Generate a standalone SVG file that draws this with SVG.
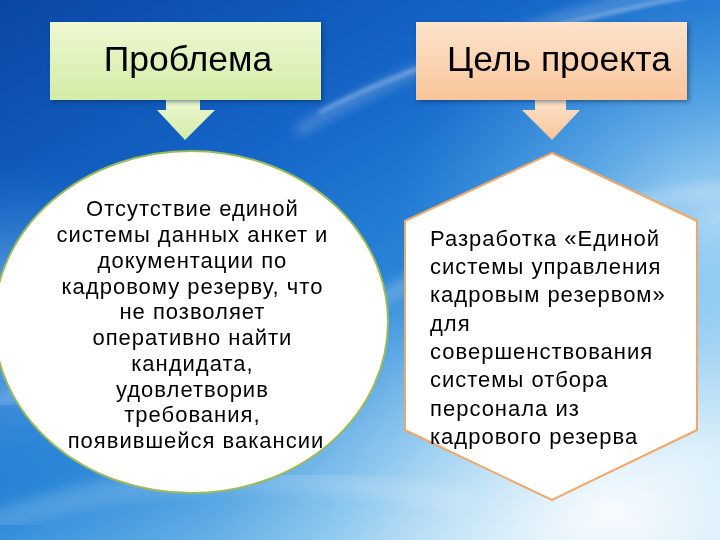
<svg xmlns="http://www.w3.org/2000/svg" width="720" height="540" viewBox="0 0 720 540">
  <defs>
    <linearGradient id="bg" x1="0" y1="0" x2="0.75" y2="1">
      <stop offset="0" stop-color="#0a46a4"/>
      <stop offset="0.35" stop-color="#1566c8"/>
      <stop offset="0.6" stop-color="#2a86d8"/>
      <stop offset="0.85" stop-color="#7cc0ec"/>
      <stop offset="1" stop-color="#cfe9f8"/>
    </linearGradient>
    <radialGradient id="glowBR" cx="0.85" cy="0.95" r="0.55">
      <stop offset="0" stop-color="#ffffff" stop-opacity="0.85"/>
      <stop offset="0.5" stop-color="#d8eefa" stop-opacity="0.45"/>
      <stop offset="1" stop-color="#9fd2f2" stop-opacity="0"/>
    </radialGradient>
    <radialGradient id="glowR" cx="1" cy="0.4" r="0.45">
      <stop offset="0" stop-color="#bfe4fa" stop-opacity="0.8"/>
      <stop offset="1" stop-color="#5fb0ea" stop-opacity="0"/>
    </radialGradient>
    <radialGradient id="glowL" cx="0" cy="0.6" r="0.3">
      <stop offset="0" stop-color="#a8dcf8" stop-opacity="0.7"/>
      <stop offset="1" stop-color="#3a90e0" stop-opacity="0"/>
    </radialGradient>
    <linearGradient id="gGreen" x1="0" y1="0" x2="0" y2="1">
      <stop offset="0" stop-color="#eef8d2"/>
      <stop offset="1" stop-color="#d3eca6"/>
    </linearGradient>
    <linearGradient id="gOrange" x1="0" y1="0" x2="0" y2="1">
      <stop offset="0" stop-color="#fde4cc"/>
      <stop offset="1" stop-color="#f9c59a"/>
    </linearGradient>
    <filter id="shadow" x="-10%" y="-10%" width="125%" height="130%">
      <feDropShadow dx="2" dy="2" stdDeviation="2" flood-color="#002050" flood-opacity="0.45"/>
    </filter>
    <filter id="blur6"><feGaussianBlur stdDeviation="6"/></filter>
    <filter id="blur2"><feGaussianBlur stdDeviation="2"/></filter>
  </defs>
  <style>
    .head { font-family: "Liberation Sans", Arial, sans-serif; font-size: 35.5px; fill: #000; }
    .body { font-family: "Liberation Sans", Arial, sans-serif; font-size: 22px; letter-spacing: 1px; fill: #000; }
    .streak { fill: none; stroke: #ffffff; stroke-linecap: round; }
  </style>

  <!-- background -->
  <rect x="0" y="0" width="720" height="540" fill="url(#bg)"/>
  <rect x="0" y="0" width="720" height="540" fill="url(#glowR)"/>
  <rect x="0" y="0" width="720" height="540" fill="url(#glowL)"/>
  <rect x="0" y="0" width="720" height="540" fill="url(#glowBR)"/>
  <g opacity="0.7">
    <path class="streak" d="M300 130 C 420 60, 560 10, 720 -20" stroke-width="10" opacity="0.35" filter="url(#blur6)"/>
    <path class="streak" d="M320 112 C 430 55, 560 20, 720 -10" stroke-width="2.5" opacity="0.8" filter="url(#blur2)"/>
    <path class="streak" d="M0 300 C 60 300, 120 310, 200 330" stroke-width="12" opacity="0.35" filter="url(#blur6)"/>
    <path class="streak" d="M0 400 C 80 380, 160 360, 260 350" stroke-width="14" opacity="0.3" filter="url(#blur6)"/>
    <path class="streak" d="M380 300 C 480 240, 600 200, 720 190" stroke-width="16" opacity="0.3" filter="url(#blur6)"/>
    <path class="streak" d="M0 520 C 150 470, 300 470, 460 500" stroke-width="24" opacity="0.2" filter="url(#blur6)"/>
  </g>

  <!-- connectors (block arrows) -->
  <g id="connectors">
    <polygon points="166,99 200,99 200,110 215,110 185,140 157,110 166,110" fill="url(#gGreen)"/>
    <polygon points="535,99 566,99 566,110 580,110 552,140 522,110 535,110" fill="url(#gOrange)"/>
  </g>

  <!-- header: Проблема -->
  <g id="problem-header">
    <rect x="50" y="22" width="271" height="78" fill="url(#gGreen)" filter="url(#shadow)"/>
    <text class="head" x="188" y="71" text-anchor="middle">Проблема</text>
  </g>

  <!-- header: Цель проекта -->
  <g id="goal-header">
    <rect x="416" y="22" width="271" height="78" fill="url(#gOrange)" filter="url(#shadow)"/>
    <text class="head" x="447" y="71">Цель проекта</text>
  </g>

  <!-- ellipse node -->
  <g id="problem-body">
    <ellipse cx="191" cy="322" rx="197" ry="171" fill="#ffffff" stroke="#9bbb59" stroke-width="2"/>
    <text class="body" text-anchor="middle">
      <tspan x="196" y="216">Отсутствие единой</tspan>
      <tspan x="196" y="242">системы данных анкет и</tspan>
      <tspan x="196" y="268">документации  по</tspan>
      <tspan x="196" y="294">кадровому резерву, что</tspan>
      <tspan x="196" y="319">не позволяет</tspan>
      <tspan x="196" y="345">оперативно найти</tspan>
      <tspan x="196" y="371">кандидата,</tspan>
      <tspan x="196" y="397">удовлетворив</tspan>
      <tspan x="196" y="422">требования,</tspan>
      <tspan x="196" y="448">появившейся вакансии</tspan>
    </text>
  </g>

  <!-- hexagon node -->
  <g id="goal-body">
    <polygon points="552,153 697,221 697,430 552,500 405,430 405,221" fill="#ffffff" stroke="#f0a868" stroke-width="2"/>
    <text class="body">
      <tspan x="430" y="246">Разработка «Единой</tspan>
      <tspan x="430" y="274">системы управления</tspan>
      <tspan x="430" y="302">кадровым резервом»</tspan>
      <tspan x="430" y="331">для</tspan>
      <tspan x="430" y="359">совершенствования</tspan>
      <tspan x="430" y="387">системы отбора</tspan>
      <tspan x="430" y="416">персонала из</tspan>
      <tspan x="430" y="444">кадрового резерва</tspan>
    </text>
  </g>
</svg>
